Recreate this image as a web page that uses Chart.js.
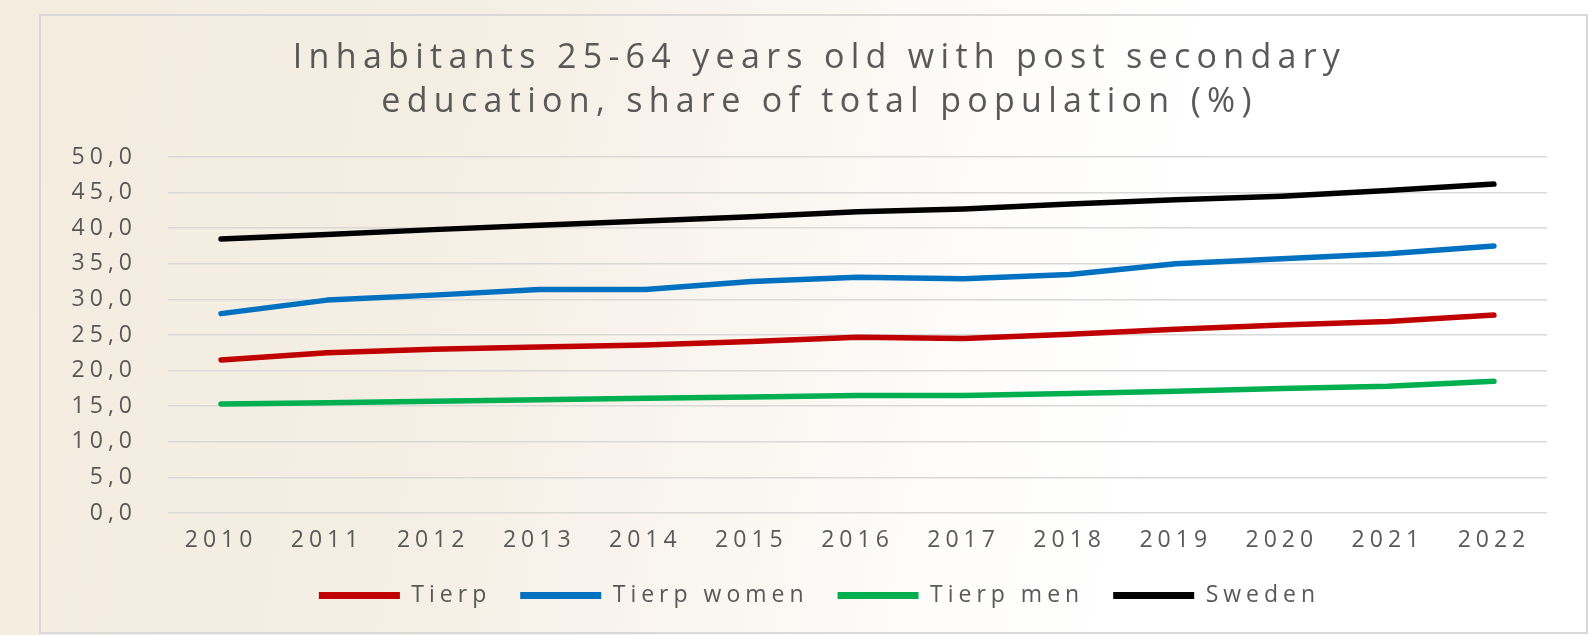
<!DOCTYPE html>
<html>
<head>
<meta charset="utf-8">
<script src="https://cdn.jsdelivr.net/npm/chart.js@4.4.1/dist/chart.umd.min.js"></script>
<style>
  html, body { margin: 0; padding: 0; }
  body {
    width: 1589px; height: 635px; overflow: hidden; position: relative;
    background: linear-gradient(100deg, #f4ecdf 0%, #f5eee3 28%, #f9f5ef 45%, #fefdfc 62%, #ffffff 75%);
  }
  #frame {
    position: absolute; left: 39px; top: 14px; width: 1545px; height: 616px;
    border: 2px solid #d9d9d9; pointer-events: none;
  }
  #wrap { position: absolute; left: 0; top: 0; width: 1589px; height: 635px; }
</style>
</head>
<body>
<div id="frame"></div>
<div id="wrap"><canvas id="myChart"></canvas></div>
<script>
// years on the x axis
var years = ["2010", "2011", "2012", "2013", "2014", "2015", "2016",
             "2017", "2018", "2019", "2020", "2021", "2022"];

// share with post secondary education, %
var tierp      = [21.5, 22.5, 23.0, 23.3, 23.6, 24.1, 24.7, 24.5, 25.1, 25.8, 26.4, 26.9, 27.8];
var tierpWomen = [28.0, 29.9, 30.6, 31.4, 31.4, 32.5, 33.1, 32.9, 33.5, 35.0, 35.7, 36.4, 37.5];
var tierpMen   = [15.3, 15.5, 15.7, 15.9, 16.1, 16.3, 16.5, 16.5, 16.8, 17.1, 17.5, 17.8, 18.5];
var sweden     = [38.5, 39.1, 39.8, 40.4, 41.0, 41.6, 42.3, 42.7, 43.4, 44.0, 44.5, 45.3, 46.2];

var seriesNames = ["Tierp", "Tierp women", "Tierp men", "Sweden"];
var lineColors = ["#c00000", "#0070c0", "#00b050", "#000000"];

var titleLines = ["Inhabitants 25-64 years old with post secondary",
                  "education, share of total population (%)"];

var textColor = "#595959";
var spacing = "5px";
var titleSpacing = "6.3px";

// the original picture is a bit stretched sideways, so widen the text
const letterSpacing = {
  id: "letterSpacing",
  afterInit(chart) {
    const tb = chart.titleBlock;
    const draw = tb.draw.bind(tb);
    tb.draw = function () {
      chart.ctx.letterSpacing = titleSpacing;
      draw();
      chart.ctx.letterSpacing = spacing;
    };
  },
  beforeUpdate(chart) { chart.ctx.letterSpacing = spacing; },
  beforeDraw(chart) { chart.ctx.letterSpacing = spacing; }
};

function makeDataset(i, values) {
  return {
    label: seriesNames[i],
    data: values,
    borderColor: lineColors[i],
    backgroundColor: lineColors[i],
    borderWidth: 5.5,
    borderCapStyle: "round",
    borderJoinStyle: "round",
    pointRadius: 0,
    tension: 0
  };
}

new Chart("myChart", {
  type: "line",
  data: {
    labels: years,
    datasets: [
      makeDataset(0, tierp),
      makeDataset(1, tierpWomen),
      makeDataset(2, tierpMen),
      makeDataset(3, sweden)
    ]
  },
  plugins: [letterSpacing],
  options: {
    responsive: true,
    maintainAspectRatio: false,
    animation: false,
    layout: { padding: { left: 50, right: 0, top: 0, bottom: 18 } },
    plugins: {
      tooltip: { enabled: false },
      title: {
        display: true,
        text: titleLines,
        color: textColor,
        font: { family: "Open Sans", size: 34, weight: "normal", lineHeight: 1.3 },
        padding: { top: 36, bottom: 32.6 }
      },
      legend: {
        position: "bottom",
        labels: {
          color: textColor,
          font: { family: "Open Sans", size: 23 },
          boxWidth: 81,
          boxHeight: 7,
          padding: 29,
          useBorderRadius: true,
          borderRadius: 3.5,
          generateLabels(chart) {
            return chart.data.datasets.map(function (ds, i) {
              return {
                text: ds.label,
                fillStyle: ds.borderColor,
                strokeStyle: ds.borderColor,
                lineWidth: 0,
                fontColor: textColor,
                datasetIndex: i
              };
            });
          }
        }
      }
    },
    scales: {
      x: {
        offset: true,
        grid: { display: false, drawTicks: false },
        border: { display: false },
        ticks: {
          color: textColor,
          font: { family: "Open Sans", size: 23 },
          padding: 14,
          maxRotation: 0
        },
        afterFit(scale) { scale.height = 42; }
      },
      y: {
        min: 0,
        max: 50,
        grid: { color: "#d9d9d9", lineWidth: 1.5, drawTicks: false },
        border: { display: false },
        ticks: {
          stepSize: 5,
          color: textColor,
          font: { family: "Open Sans", size: 23 },
          padding: 31,
          callback: function (v) { return v.toFixed(1).replace(".", ","); }
        },
        afterFit(scale) { scale.width = 118; }
      },
      // empty strip on the right, keeps title and legend centred like the original
      yRight: {
        position: "right",
        grid: { display: false, drawTicks: false },
        border: { display: false },
        ticks: { display: false },
        afterFit(scale) { scale.width = 42; }
      }
    }
  }
});
</script>
</body>
</html>
